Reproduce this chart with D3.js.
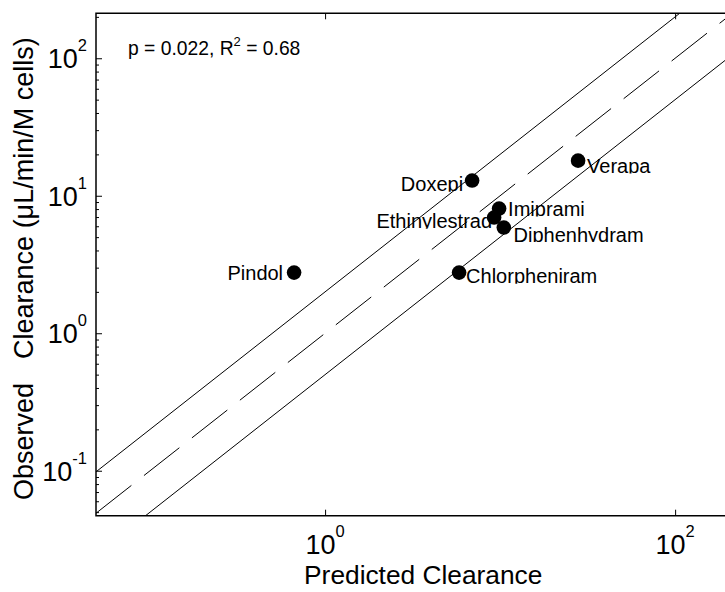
<!DOCTYPE html>
<html>
<head>
<meta charset="utf-8">
<script src="https://cdnjs.cloudflare.com/ajax/libs/d3/7.8.5/d3.min.js"></script>
<style>
  html, body { margin: 0; padding: 0; background: #fff; }
  svg { display: block; font-family: "Liberation Sans", Arial, Helvetica, sans-serif; }
</style>
</head>
<body>
<svg id="chart" width="725" height="592"></svg>
<script>
// Observed vs predicted hepatocyte clearance
const drugs     = ["Pindol", "Doxepi", "Verapa", "Imiprami", "Ethinylestrad", "Diphenhydram", "Chlorpheniram"];
const predicted = [0.665, 6.92, 27.9, 9.87, 9.24, 10.5, 5.83];
const observed  = [2.76, 12.9, 18.0, 8.07, 6.94, 5.87, 2.76];

const xTickExponents = [0, 2];
const yTickExponents = [-1, 0, 1, 2];
const foldFactors = [2, 1, 0.5];          // y = k * x guide lines
const statsLabel = { p: "0.022", r2: "0.68" };

// label placement next to each marker (anchor side, offset in px)
const labelPlacement = [
  { anchor: "end",   dx: -11, dy: 7.6 },
  { anchor: "end",   dx: -9,  dy: 10.7 },
  { anchor: "start", dx: 9,   dy: 12.3 },
  { anchor: "start", dx: 9,   dy: 7.4 },
  { anchor: "end",   dx: -2,  dy: 10.6 },
  { anchor: "start", dx: 9.7, dy: 14 },
  { anchor: "start", dx: 7,   dy: 10.6 }
];

const svg = d3.select("#chart");
const L = 96, T = 13.3, B = 515.7, R = 735.5;

const x = d3.scaleLog().domain([Math.pow(10, -1.309), Math.pow(10, 2.345)]).range([L, R]);
const y = d3.scaleLog().domain([Math.pow(10, -1.327), Math.pow(10, 2.327)]).range([B, T]);

svg.append("defs").append("clipPath").attr("id", "plotClip")
  .append("rect").attr("x", L).attr("y", T).attr("width", R - L).attr("height", B - T);

// fold lines
const [x0, x1] = x.domain();
const lineGen = d3.line().x(d => x(d[0])).y(d => y(d[1]));
const guides = svg.append("g").attr("clip-path", "url(#plotClip)");
foldFactors.forEach(k => {
  guides.append("path")
    .attr("d", lineGen([[x0, k * x0], [x1, k * x1]]))
    .attr("fill", "none")
    .attr("stroke", "#000")
    .attr("stroke-width", 1)
    .attr("stroke-dasharray", k === 1 ? "45,16" : null);
});

// axes: ticks drawn inward
const yMinor = [];
for (let e = -2; e <= 2; e++) for (let m = 1; m <= 9; m++) {
  const v = m * Math.pow(10, e);
  if (v >= y.domain()[0] && v <= y.domain()[1]) yMinor.push(v);
}
svg.append("g").attr("transform", `translate(${L},0)`)
  .call(d3.axisLeft(y).tickValues(yMinor.filter(v => !yTickExponents.some(e => Math.abs(v - Math.pow(10, e)) < 1e-9)))
    .tickSizeInner(-3).tickSizeOuter(0).tickFormat(""))
  .call(g => g.select(".domain").remove())
  .selectAll("line").attr("stroke", "#000");
svg.append("g").attr("transform", `translate(${L},0)`)
  .call(d3.axisLeft(y).tickValues(yTickExponents.map(e => Math.pow(10, e)))
    .tickSizeInner(-6).tickSizeOuter(0).tickFormat(""))
  .call(g => g.select(".domain").remove())
  .selectAll("line").attr("stroke", "#000");
svg.append("g").attr("transform", `translate(0,${B})`)
  .call(d3.axisBottom(x).tickValues(xTickExponents.map(e => Math.pow(10, e)))
    .tickSizeInner(-6).tickSizeOuter(0).tickFormat(""))
  .call(g => g.select(".domain").remove())
  .selectAll("line").attr("stroke", "#000");
svg.append("g").attr("transform", `translate(0,${T})`)
  .call(d3.axisTop(x).tickValues(xTickExponents.map(e => Math.pow(10, e)))
    .tickSizeInner(-6).tickSizeOuter(0).tickFormat(""))
  .call(g => g.select(".domain").remove())
  .selectAll("line").attr("stroke", "#000");

// box edges
svg.append("path")
  .attr("d", `M${R},${T}H${L}V${B}H${R}`)
  .attr("fill", "none").attr("stroke", "#000").attr("stroke-width", 1.5);

// tick labels 10^n
function powerLabel(g, e, px, py, anchor) {
  const t = g.append("text").attr("x", px).attr("y", py).attr("text-anchor", anchor).attr("fill", "#000");
  t.append("tspan").attr("font-size", 27).text("10");
  t.append("tspan").attr("font-size", 16.5).attr("dy", -17).text(String(e));
}
const tickLabels = svg.append("g");
xTickExponents.forEach(e => powerLabel(tickLabels, e, x(Math.pow(10, e)), 554, "middle"));
yTickExponents.forEach(e => powerLabel(tickLabels, e, 87, y(Math.pow(10, e)) + 10, "end"));

// axis titles
svg.append("text")
  .attr("x", x(1) - 21).attr("y", 584)
  .attr("font-size", 26.3).attr("fill", "#000")
  .text("Predicted Clearance");

const yTitle = svg.append("text")
  .attr("transform", "translate(33,500) rotate(-90)")
  .attr("font-size", 27).attr("fill", "#000");
yTitle.append("tspan").text("Observed");
yTitle.append("tspan").attr("dx", 24).text("Clearance (\u03BCL/min/M cells)");

// stats annotation
const st = svg.append("text").attr("x", 128).attr("y", 55).attr("font-size", 19.3).attr("fill", "#000");
st.append("tspan").text(`p = ${statsLabel.p}, R`);
st.append("tspan").attr("font-size", 13).attr("dy", -9).text("2");
st.append("tspan").attr("dy", 9).text(` = ${statsLabel.r2}`);

// points and labels
const pts = drugs.map((d, i) => ({ name: d, px: predicted[i], ob: observed[i], lp: labelPlacement[i] }));
const defs = svg.select("defs");
pts.forEach((d, i) => {
  const cy = y(d.ob);
  defs.append("clipPath").attr("id", "lab" + i)
    .append("rect").attr("x", 0).attr("y", 0).attr("width", 725).attr("height", cy + d.lp.dy + 0.5);
});
svg.append("g").selectAll("text").data(pts).join("text")
  .attr("clip-path", (d, i) => `url(#lab${i})`)
  .attr("x", d => x(d.px) + d.lp.dx)
  .attr("y", d => y(d.ob) + d.lp.dy)
  .attr("text-anchor", d => d.lp.anchor)
  .attr("font-size", 20)
  .attr("fill", "#000")
  .text(d => d.name);
svg.append("g").selectAll("circle").data(pts).join("circle")
  .attr("cx", d => x(d.px))
  .attr("cy", d => y(d.ob))
  .attr("r", 7.3)
  .attr("fill", "#000");
</script>
</body>
</html>
